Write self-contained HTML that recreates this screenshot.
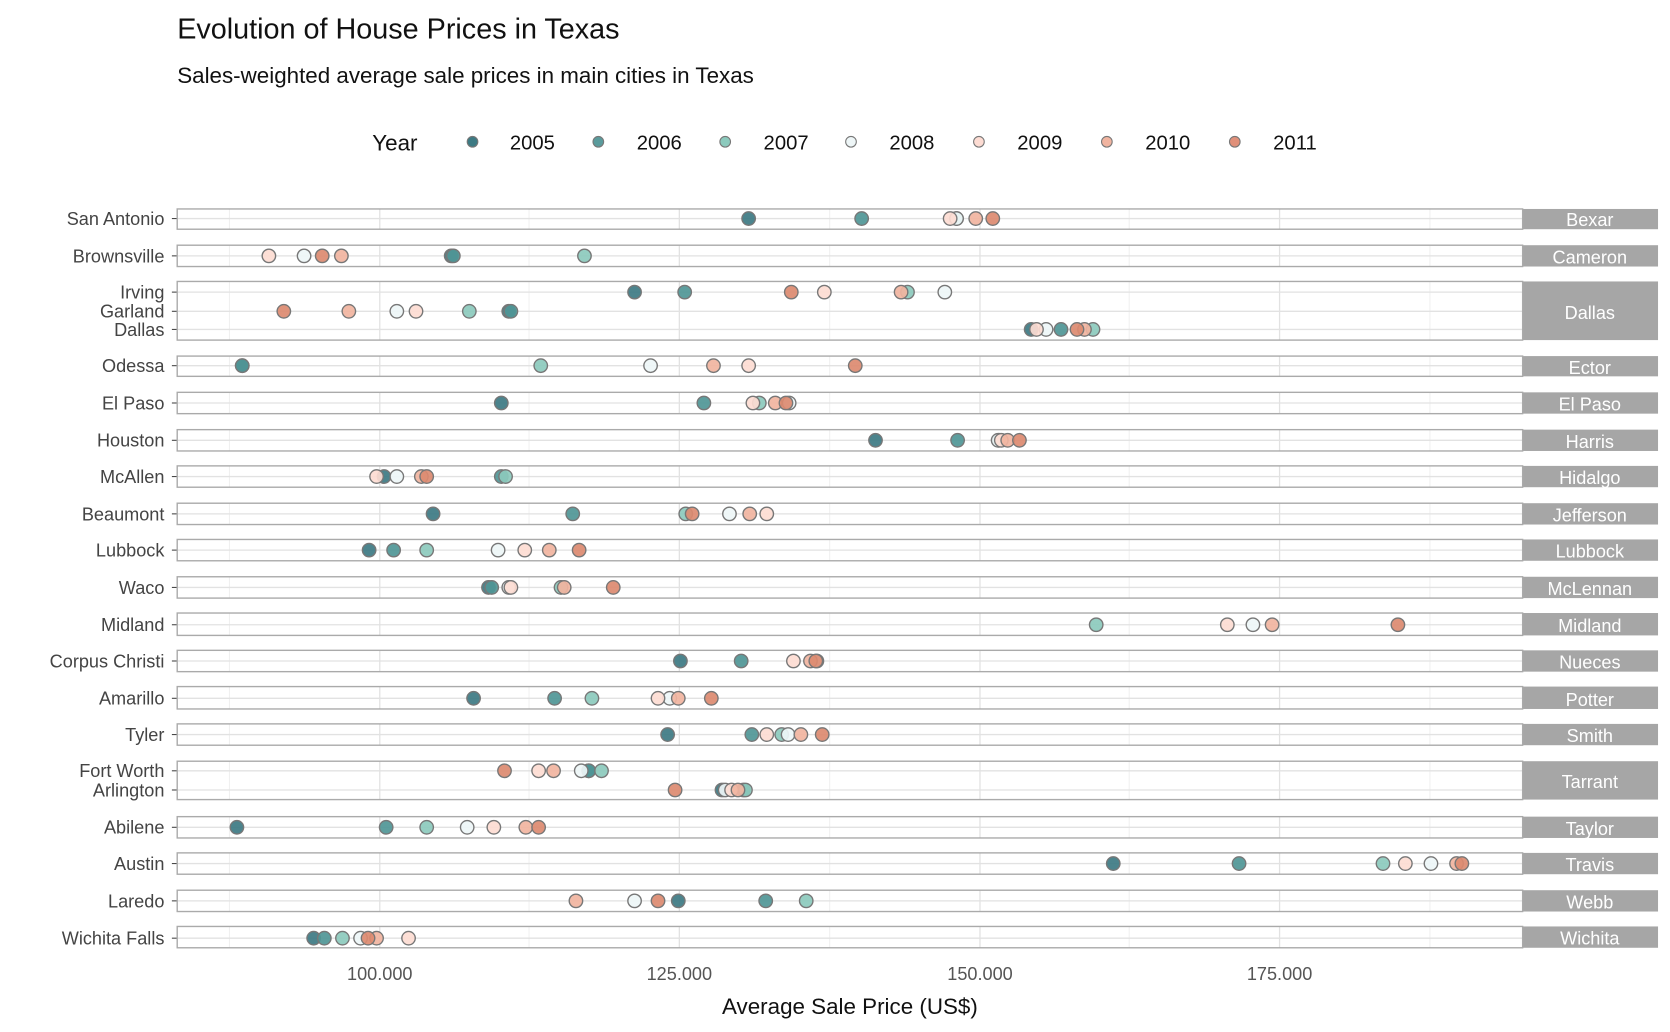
<!DOCTYPE html>
<html><head><meta charset="utf-8"><style>body{margin:0;background:#fff}svg{display:block}
.p circle{stroke:#777;stroke-width:1.3;fill-opacity:0.92}
.y5{fill:#3d7a83}.y6{fill:#4f9696}.y7{fill:#8ccabd}.y8{fill:#eef6f7}.y9{fill:#fddcd3}.y10{fill:#f1b4a0}.y11{fill:#dc8a70}
.rl{stroke:#e2e2e2;stroke-width:1.2}
.lb{font-size:17px;fill:#444;text-anchor:end}
.st{fill:#a6a6a6}.stt{font-size:17px;fill:#fff;text-anchor:middle}
.bd{fill:none;stroke:#aaa;stroke-width:1.3}
</style></head><body>
<svg width="1670" height="1032" viewBox="0 0 1566 968" xmlns="http://www.w3.org/2000/svg" font-family="Liberation Sans, sans-serif">
<defs><clipPath id="cp">
<rect x="166" y="196" width="1262" height="19"/><rect x="166" y="230" width="1262" height="20"/><rect x="166" y="264" width="1262" height="55"/><rect x="166" y="334" width="1262" height="19"/><rect x="166" y="368" width="1262" height="20"/><rect x="166" y="403" width="1262" height="20"/><rect x="166" y="437" width="1262" height="20"/><rect x="166" y="472" width="1262" height="20"/><rect x="166" y="506" width="1262" height="20"/><rect x="166" y="541" width="1262" height="20"/><rect x="166" y="575" width="1262" height="21"/><rect x="166" y="610" width="1262" height="20"/><rect x="166" y="644" width="1262" height="21"/><rect x="166" y="679" width="1262" height="20"/><rect x="166" y="714" width="1262" height="36"/><rect x="166" y="766" width="1262" height="20"/><rect x="166" y="800" width="1262" height="20"/><rect x="166" y="835" width="1262" height="20"/><rect x="166" y="869" width="1262" height="20"/>
</clipPath></defs>
<text x="166" y="36" font-size="27" fill="#111">Evolution of House Prices in Texas</text>
<text x="166" y="78" font-size="21" fill="#111">Sales-weighted average sale prices in main cities in Texas</text>
<g font-size="19" fill="#111">
<text x="349" y="141" font-size="21">Year</text>
<g stroke="#777" stroke-width="1">
<circle cx="443" cy="133" r="5" fill="#3d7a83"/><circle cx="561" cy="133" r="5" fill="#5a9b9c"/><circle cx="680" cy="133" r="5" fill="#8ccabd"/><circle cx="798" cy="133" r="5" fill="#eef6f7"/><circle cx="918" cy="133" r="5" fill="#fddcd3"/><circle cx="1038" cy="133" r="5" fill="#f1b4a0"/><circle cx="1158" cy="133" r="5" fill="#e0907a"/></g>
<text x="478" y="140">2005</text><text x="597" y="140">2006</text><text x="716" y="140">2007</text><text x="834" y="140">2008</text><text x="954" y="140">2009</text><text x="1074" y="140">2010</text><text x="1194" y="140">2011</text>
</g>
<g clip-path="url(#cp)">
<g stroke="#f0f0f0" stroke-width="1"><line x1="215" y1="190" x2="215" y2="895"/><line x1="496" y1="190" x2="496" y2="895"/><line x1="778" y1="190" x2="778" y2="895"/><line x1="1059" y1="190" x2="1059" y2="895"/><line x1="1341" y1="190" x2="1341" y2="895"/></g>
<g stroke="#e2e2e2" stroke-width="1.2"><line x1="356" y1="190" x2="356" y2="895"/><line x1="637" y1="190" x2="637" y2="895"/><line x1="919" y1="190" x2="919" y2="895"/><line x1="1200" y1="190" x2="1200" y2="895"/></g>
<g class="rl">
<line x1="166" x2="1428" y1="205" y2="205"/><line x1="166" x2="1428" y1="240" y2="240"/><line x1="166" x2="1428" y1="274" y2="274"/><line x1="166" x2="1428" y1="292" y2="292"/><line x1="166" x2="1428" y1="309" y2="309"/><line x1="166" x2="1428" y1="343" y2="343"/><line x1="166" x2="1428" y1="378" y2="378"/><line x1="166" x2="1428" y1="413" y2="413"/><line x1="166" x2="1428" y1="447" y2="447"/><line x1="166" x2="1428" y1="482" y2="482"/><line x1="166" x2="1428" y1="516" y2="516"/><line x1="166" x2="1428" y1="551" y2="551"/><line x1="166" x2="1428" y1="586" y2="586"/><line x1="166" x2="1428" y1="620" y2="620"/><line x1="166" x2="1428" y1="655" y2="655"/><line x1="166" x2="1428" y1="689" y2="689"/><line x1="166" x2="1428" y1="723" y2="723"/><line x1="166" x2="1428" y1="741" y2="741"/><line x1="166" x2="1428" y1="776" y2="776"/><line x1="166" x2="1428" y1="810" y2="810"/><line x1="166" x2="1428" y1="845" y2="845"/><line x1="166" x2="1428" y1="880" y2="880"/>
</g></g>
<g stroke="#444"><line x1="161" x2="166" y1="205" y2="205"/><line x1="161" x2="166" y1="240" y2="240"/><line x1="161" x2="166" y1="274" y2="274"/><line x1="161" x2="166" y1="292" y2="292"/><line x1="161" x2="166" y1="309" y2="309"/><line x1="161" x2="166" y1="343" y2="343"/><line x1="161" x2="166" y1="378" y2="378"/><line x1="161" x2="166" y1="413" y2="413"/><line x1="161" x2="166" y1="447" y2="447"/><line x1="161" x2="166" y1="482" y2="482"/><line x1="161" x2="166" y1="516" y2="516"/><line x1="161" x2="166" y1="551" y2="551"/><line x1="161" x2="166" y1="586" y2="586"/><line x1="161" x2="166" y1="620" y2="620"/><line x1="161" x2="166" y1="655" y2="655"/><line x1="161" x2="166" y1="689" y2="689"/><line x1="161" x2="166" y1="723" y2="723"/><line x1="161" x2="166" y1="741" y2="741"/><line x1="161" x2="166" y1="776" y2="776"/><line x1="161" x2="166" y1="810" y2="810"/><line x1="161" x2="166" y1="845" y2="845"/><line x1="161" x2="166" y1="880" y2="880"/></g>
<g class="lb">
<text x="154" y="211">San Antonio</text><text x="154" y="246">Brownsville</text><text x="154" y="280">Irving</text><text x="154" y="298">Garland</text><text x="154" y="315">Dallas</text><text x="154" y="349">Odessa</text><text x="154" y="384">El Paso</text><text x="154" y="419">Houston</text><text x="154" y="453">McAllen</text><text x="154" y="488">Beaumont</text><text x="154" y="522">Lubbock</text><text x="154" y="557">Waco</text><text x="154" y="592">Midland</text><text x="154" y="626">Corpus Christi</text><text x="154" y="661">Amarillo</text><text x="154" y="695">Tyler</text><text x="154" y="729">Fort Worth</text><text x="154" y="747">Arlington</text><text x="154" y="782">Abilene</text><text x="154" y="816">Austin</text><text x="154" y="851">Laredo</text><text x="154" y="886">Wichita Falls</text>
</g>
<g class="st">
<rect x="1428" y="196" width="127" height="19"/><rect x="1428" y="230" width="127" height="20"/><rect x="1428" y="264" width="127" height="55"/><rect x="1428" y="334" width="127" height="19"/><rect x="1428" y="368" width="127" height="20"/><rect x="1428" y="403" width="127" height="20"/><rect x="1428" y="437" width="127" height="20"/><rect x="1428" y="472" width="127" height="20"/><rect x="1428" y="506" width="127" height="20"/><rect x="1428" y="541" width="127" height="20"/><rect x="1428" y="575" width="127" height="21"/><rect x="1428" y="610" width="127" height="20"/><rect x="1428" y="644" width="127" height="21"/><rect x="1428" y="679" width="127" height="20"/><rect x="1428" y="714" width="127" height="36"/><rect x="1428" y="766" width="127" height="20"/><rect x="1428" y="800" width="127" height="20"/><rect x="1428" y="835" width="127" height="20"/><rect x="1428" y="869" width="127" height="20"/>
</g>
<g class="stt">
<text x="1491" y="212">Bexar</text><text x="1491" y="247">Cameron</text><text x="1491" y="299">Dallas</text><text x="1491" y="351">Ector</text><text x="1491" y="385">El Paso</text><text x="1491" y="420">Harris</text><text x="1491" y="454">Hidalgo</text><text x="1491" y="489">Jefferson</text><text x="1491" y="523">Lubbock</text><text x="1491" y="558">McLennan</text><text x="1491" y="593">Midland</text><text x="1491" y="627">Nueces</text><text x="1491" y="662">Potter</text><text x="1491" y="696">Smith</text><text x="1491" y="739">Tarrant</text><text x="1491" y="783">Taylor</text><text x="1491" y="817">Travis</text><text x="1491" y="852">Webb</text><text x="1491" y="886">Wichita</text>
</g>
<g class="p">
<circle class="y5" cx="702" cy="205" r="6.3"/><circle class="y6" cx="808" cy="205" r="6.3"/><circle class="y7" cx="897" cy="205" r="6.3"/><circle class="y8" cx="897" cy="205" r="6.3"/><circle class="y9" cx="891" cy="205" r="6.3"/><circle class="y10" cx="915" cy="205" r="6.3"/><circle class="y11" cx="931" cy="205" r="6.3"/>
<circle class="y5" cx="423" cy="240" r="6.3"/><circle class="y6" cx="425" cy="240" r="6.3"/><circle class="y7" cx="548" cy="240" r="6.3"/><circle class="y8" cx="285" cy="240" r="6.3"/><circle class="y9" cx="252" cy="240" r="6.3"/><circle class="y10" cx="320" cy="240" r="6.3"/><circle class="y11" cx="302" cy="240" r="6.3"/>
<circle class="y5" cx="595" cy="274" r="6.3"/><circle class="y6" cx="642" cy="274" r="6.3"/><circle class="y7" cx="851" cy="274" r="6.3"/><circle class="y8" cx="886" cy="274" r="6.3"/><circle class="y9" cx="773" cy="274" r="6.3"/><circle class="y10" cx="845" cy="274" r="6.3"/><circle class="y11" cx="742" cy="274" r="6.3"/>
<circle class="y5" cx="477" cy="292" r="6.3"/><circle class="y6" cx="479" cy="292" r="6.3"/><circle class="y7" cx="440" cy="292" r="6.3"/><circle class="y8" cx="372" cy="292" r="6.3"/><circle class="y9" cx="390" cy="292" r="6.3"/><circle class="y10" cx="327" cy="292" r="6.3"/><circle class="y11" cx="266" cy="292" r="6.3"/>
<circle class="y5" cx="967" cy="309" r="6.3"/><circle class="y6" cx="995" cy="309" r="6.3"/><circle class="y7" cx="1025" cy="309" r="6.3"/><circle class="y8" cx="981" cy="309" r="6.3"/><circle class="y9" cx="972" cy="309" r="6.3"/><circle class="y10" cx="1017" cy="309" r="6.3"/><circle class="y11" cx="1010" cy="309" r="6.3"/>
<circle class="y5" cx="227" cy="343" r="6.3"/><circle class="y6" cx="227" cy="343" r="6.3"/><circle class="y7" cx="507" cy="343" r="6.3"/><circle class="y8" cx="610" cy="343" r="6.3"/><circle class="y9" cx="702" cy="343" r="6.3"/><circle class="y10" cx="669" cy="343" r="6.3"/><circle class="y11" cx="802" cy="343" r="6.3"/>
<circle class="y5" cx="470" cy="378" r="6.3"/><circle class="y6" cx="660" cy="378" r="6.3"/><circle class="y7" cx="712" cy="378" r="6.3"/><circle class="y8" cx="740" cy="378" r="6.3"/><circle class="y9" cx="706" cy="378" r="6.3"/><circle class="y10" cx="727" cy="378" r="6.3"/><circle class="y11" cx="737" cy="378" r="6.3"/>
<circle class="y5" cx="821" cy="413" r="6.3"/><circle class="y6" cx="898" cy="413" r="6.3"/><circle class="y7" cx="937" cy="413" r="6.3"/><circle class="y8" cx="936" cy="413" r="6.3"/><circle class="y9" cx="939" cy="413" r="6.3"/><circle class="y10" cx="945" cy="413" r="6.3"/><circle class="y11" cx="956" cy="413" r="6.3"/>
<circle class="y5" cx="360" cy="447" r="6.3"/><circle class="y6" cx="470" cy="447" r="6.3"/><circle class="y7" cx="474" cy="447" r="6.3"/><circle class="y8" cx="372" cy="447" r="6.3"/><circle class="y9" cx="353" cy="447" r="6.3"/><circle class="y10" cx="395" cy="447" r="6.3"/><circle class="y11" cx="400" cy="447" r="6.3"/>
<circle class="y5" cx="406" cy="482" r="6.3"/><circle class="y6" cx="537" cy="482" r="6.3"/><circle class="y7" cx="643" cy="482" r="6.3"/><circle class="y8" cx="684" cy="482" r="6.3"/><circle class="y9" cx="719" cy="482" r="6.3"/><circle class="y10" cx="703" cy="482" r="6.3"/><circle class="y11" cx="649" cy="482" r="6.3"/>
<circle class="y5" cx="346" cy="516" r="6.3"/><circle class="y6" cx="369" cy="516" r="6.3"/><circle class="y7" cx="400" cy="516" r="6.3"/><circle class="y8" cx="467" cy="516" r="6.3"/><circle class="y9" cx="492" cy="516" r="6.3"/><circle class="y10" cx="515" cy="516" r="6.3"/><circle class="y11" cx="543" cy="516" r="6.3"/>
<circle class="y5" cx="458" cy="551" r="6.3"/><circle class="y6" cx="461" cy="551" r="6.3"/><circle class="y7" cx="526" cy="551" r="6.3"/><circle class="y8" cx="477" cy="551" r="6.3"/><circle class="y9" cx="479" cy="551" r="6.3"/><circle class="y10" cx="529" cy="551" r="6.3"/><circle class="y11" cx="575" cy="551" r="6.3"/>
<circle class="y7" cx="1028" cy="586" r="6.3"/><circle class="y8" cx="1175" cy="586" r="6.3"/><circle class="y9" cx="1151" cy="586" r="6.3"/><circle class="y10" cx="1193" cy="586" r="6.3"/><circle class="y11" cx="1311" cy="586" r="6.3"/>
<circle class="y5" cx="638" cy="620" r="6.3"/><circle class="y6" cx="695" cy="620" r="6.3"/><circle class="y8" cx="766" cy="620" r="6.3"/><circle class="y9" cx="744" cy="620" r="6.3"/><circle class="y10" cx="760" cy="620" r="6.3"/><circle class="y11" cx="765" cy="620" r="6.3"/>
<circle class="y5" cx="444" cy="655" r="6.3"/><circle class="y6" cx="520" cy="655" r="6.3"/><circle class="y7" cx="555" cy="655" r="6.3"/><circle class="y8" cx="628" cy="655" r="6.3"/><circle class="y9" cx="617" cy="655" r="6.3"/><circle class="y10" cx="636" cy="655" r="6.3"/><circle class="y11" cx="667" cy="655" r="6.3"/>
<circle class="y5" cx="626" cy="689" r="6.3"/><circle class="y6" cx="705" cy="689" r="6.3"/><circle class="y7" cx="733" cy="689" r="6.3"/><circle class="y8" cx="739" cy="689" r="6.3"/><circle class="y9" cx="719" cy="689" r="6.3"/><circle class="y10" cx="751" cy="689" r="6.3"/><circle class="y11" cx="771" cy="689" r="6.3"/>
<circle class="y5" cx="552" cy="723" r="6.3"/><circle class="y6" cx="552" cy="723" r="6.3"/><circle class="y7" cx="564" cy="723" r="6.3"/><circle class="y8" cx="545" cy="723" r="6.3"/><circle class="y9" cx="505" cy="723" r="6.3"/><circle class="y10" cx="519" cy="723" r="6.3"/><circle class="y11" cx="473" cy="723" r="6.3"/>
<circle class="y5" cx="677" cy="741" r="6.3"/><circle class="y6" cx="697" cy="741" r="6.3"/><circle class="y7" cx="699" cy="741" r="6.3"/><circle class="y8" cx="680" cy="741" r="6.3"/><circle class="y9" cx="686" cy="741" r="6.3"/><circle class="y10" cx="692" cy="741" r="6.3"/><circle class="y11" cx="633" cy="741" r="6.3"/>
<circle class="y5" cx="222" cy="776" r="6.3"/><circle class="y6" cx="362" cy="776" r="6.3"/><circle class="y7" cx="400" cy="776" r="6.3"/><circle class="y8" cx="438" cy="776" r="6.3"/><circle class="y9" cx="463" cy="776" r="6.3"/><circle class="y10" cx="493" cy="776" r="6.3"/><circle class="y11" cx="505" cy="776" r="6.3"/>
<circle class="y5" cx="1044" cy="810" r="6.3"/><circle class="y6" cx="1162" cy="810" r="6.3"/><circle class="y7" cx="1297" cy="810" r="6.3"/><circle class="y8" cx="1342" cy="810" r="6.3"/><circle class="y9" cx="1318" cy="810" r="6.3"/><circle class="y10" cx="1366" cy="810" r="6.3"/><circle class="y11" cx="1371" cy="810" r="6.3"/>
<circle class="y5" cx="636" cy="845" r="6.3"/><circle class="y6" cx="718" cy="845" r="6.3"/><circle class="y7" cx="756" cy="845" r="6.3"/><circle class="y8" cx="595" cy="845" r="6.3"/><circle class="y10" cx="540" cy="845" r="6.3"/><circle class="y11" cx="617" cy="845" r="6.3"/>
<circle class="y5" cx="294" cy="880" r="6.3"/><circle class="y6" cx="304" cy="880" r="6.3"/><circle class="y7" cx="321" cy="880" r="6.3"/><circle class="y8" cx="338" cy="880" r="6.3"/><circle class="y9" cx="383" cy="880" r="6.3"/><circle class="y10" cx="353" cy="880" r="6.3"/><circle class="y11" cx="345" cy="880" r="6.3"/>
</g>
<g class="bd">
<rect x="166" y="196" width="1262" height="19"/><rect x="166" y="230" width="1262" height="20"/><rect x="166" y="264" width="1262" height="55"/><rect x="166" y="334" width="1262" height="19"/><rect x="166" y="368" width="1262" height="20"/><rect x="166" y="403" width="1262" height="20"/><rect x="166" y="437" width="1262" height="20"/><rect x="166" y="472" width="1262" height="20"/><rect x="166" y="506" width="1262" height="20"/><rect x="166" y="541" width="1262" height="20"/><rect x="166" y="575" width="1262" height="21"/><rect x="166" y="610" width="1262" height="20"/><rect x="166" y="644" width="1262" height="21"/><rect x="166" y="679" width="1262" height="20"/><rect x="166" y="714" width="1262" height="36"/><rect x="166" y="766" width="1262" height="20"/><rect x="166" y="800" width="1262" height="20"/><rect x="166" y="835" width="1262" height="20"/><rect x="166" y="869" width="1262" height="20"/>
</g>
<g font-size="17" fill="#555" text-anchor="middle">
<text x="356" y="919">100.000</text><text x="637" y="919">125.000</text><text x="919" y="919">150.000</text><text x="1200" y="919">175.000</text>
</g>
<text x="797" y="951" font-size="21" text-anchor="middle" fill="#111">Average Sale Price (US$)</text>
</svg>
</body></html>
